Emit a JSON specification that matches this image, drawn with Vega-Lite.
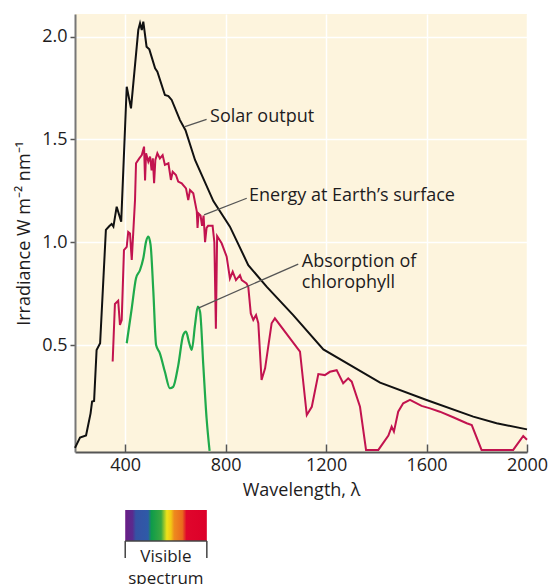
{
  "$schema": "https://vega.github.io/schema/vega-lite/v6.json",
  "width": 452,
  "height": 438,
  "autosize": {"type": "none"},
  "padding": {"left": 75, "top": 14, "right": 22, "bottom": 132},
  "background": "white",
  "config": {
    "view": {"fill": "#fdf4dd", "stroke": null},
    "font": "Open Sans",
    "text": {"font": "Open Sans", "fontSize": 18, "color": "#1e1c1d"}
  },
  "datasets": {
    "solar": [
      {"nm": 200, "v": 0}, {"nm": 220, "v": 0.05}, {"nm": 244, "v": 0.06}, {"nm": 262, "v": 0.168},
      {"nm": 268, "v": 0.225}, {"nm": 276, "v": 0.228}, {"nm": 286, "v": 0.476}, {"nm": 300, "v": 0.509},
      {"nm": 323, "v": 1.06}, {"nm": 337, "v": 1.079}, {"nm": 346, "v": 1.089}, {"nm": 353, "v": 1.076},
      {"nm": 366, "v": 1.173}, {"nm": 384, "v": 1.10}, {"nm": 406, "v": 1.756}, {"nm": 423, "v": 1.651},
      {"nm": 452, "v": 2.032}, {"nm": 459, "v": 2.065}, {"nm": 466, "v": 2.032}, {"nm": 472, "v": 2.073},
      {"nm": 485, "v": 1.951}, {"nm": 496, "v": 1.938}, {"nm": 519, "v": 1.846}, {"nm": 528, "v": 1.83},
      {"nm": 558, "v": 1.716}, {"nm": 572, "v": 1.711}, {"nm": 585, "v": 1.692}, {"nm": 618, "v": 1.594},
      {"nm": 640, "v": 1.545}, {"nm": 678, "v": 1.40}, {"nm": 751, "v": 1.20}, {"nm": 817, "v": 1.076},
      {"nm": 890, "v": 0.889}, {"nm": 963, "v": 0.784}, {"nm": 1069, "v": 0.646}, {"nm": 1189, "v": 0.479},
      {"nm": 1415, "v": 0.317}, {"nm": 1600, "v": 0.233}, {"nm": 1786, "v": 0.152}, {"nm": 1879, "v": 0.12},
      {"nm": 2000, "v": 0.09}
    ],
    "surface": [
      {"nm": 350, "v": 0.42}, {"nm": 359, "v": 0.70}, {"nm": 372, "v": 0.716}, {"nm": 379, "v": 0.598},
      {"nm": 386, "v": 0.622}, {"nm": 395, "v": 0.962}, {"nm": 406, "v": 0.978}, {"nm": 412, "v": 1.05},
      {"nm": 419, "v": 1.043}, {"nm": 426, "v": 0.914}, {"nm": 439, "v": 1.205}, {"nm": 443, "v": 1.384},
      {"nm": 456, "v": 1.408}, {"nm": 466, "v": 1.424}, {"nm": 475, "v": 1.465}, {"nm": 479, "v": 1.30},
      {"nm": 483, "v": 1.433}, {"nm": 492, "v": 1.392}, {"nm": 499, "v": 1.416}, {"nm": 505, "v": 1.35},
      {"nm": 510, "v": 1.408}, {"nm": 515, "v": 1.287}, {"nm": 520, "v": 1.40}, {"nm": 528, "v": 1.433},
      {"nm": 538, "v": 1.408}, {"nm": 549, "v": 1.424}, {"nm": 558, "v": 1.376}, {"nm": 572, "v": 1.384},
      {"nm": 582, "v": 1.303}, {"nm": 589, "v": 1.343}, {"nm": 602, "v": 1.327}, {"nm": 611, "v": 1.295},
      {"nm": 625, "v": 1.287}, {"nm": 642, "v": 1.262}, {"nm": 651, "v": 1.205}, {"nm": 658, "v": 1.254},
      {"nm": 671, "v": 1.238}, {"nm": 685, "v": 1.15}, {"nm": 688, "v": 1.07}, {"nm": 692, "v": 1.14},
      {"nm": 700, "v": 1.13}, {"nm": 706, "v": 1.08}, {"nm": 712, "v": 1.13}, {"nm": 718, "v": 1.0},
      {"nm": 724, "v": 1.07}, {"nm": 730, "v": 1.08}, {"nm": 748, "v": 1.08}, {"nm": 755, "v": 1.0},
      {"nm": 761, "v": 0.58}, {"nm": 766, "v": 1.03}, {"nm": 784, "v": 0.995}, {"nm": 804, "v": 0.93},
      {"nm": 817, "v": 0.824}, {"nm": 828, "v": 0.857}, {"nm": 841, "v": 0.816}, {"nm": 857, "v": 0.84},
      {"nm": 864, "v": 0.816}, {"nm": 883, "v": 0.80}, {"nm": 890, "v": 0.784}, {"nm": 900, "v": 0.654},
      {"nm": 910, "v": 0.622}, {"nm": 921, "v": 0.646}, {"nm": 930, "v": 0.606}, {"nm": 943, "v": 0.33},
      {"nm": 957, "v": 0.387}, {"nm": 983, "v": 0.606}, {"nm": 996, "v": 0.63}, {"nm": 1096, "v": 0.468},
      {"nm": 1123, "v": 0.16}, {"nm": 1143, "v": 0.20}, {"nm": 1169, "v": 0.359}, {"nm": 1195, "v": 0.354},
      {"nm": 1215, "v": 0.37}, {"nm": 1242, "v": 0.378}, {"nm": 1268, "v": 0.314}, {"nm": 1288, "v": 0.338},
      {"nm": 1302, "v": 0.322}, {"nm": 1335, "v": 0.20}, {"nm": 1359, "v": -0.01}, {"nm": 1408, "v": -0.01},
      {"nm": 1448, "v": 0.06}, {"nm": 1461, "v": 0.103}, {"nm": 1470, "v": 0.079}, {"nm": 1487, "v": 0.176},
      {"nm": 1507, "v": 0.217}, {"nm": 1534, "v": 0.233}, {"nm": 1580, "v": 0.204}, {"nm": 1614, "v": 0.192},
      {"nm": 1653, "v": 0.176}, {"nm": 1706, "v": 0.149}, {"nm": 1760, "v": 0.12}, {"nm": 1780, "v": 0.111},
      {"nm": 1819, "v": -0.01}, {"nm": 1945, "v": -0.01}, {"nm": 1985, "v": 0.058}, {"nm": 2000, "v": 0.04}
    ],
    "chlorophyll": [
      {"nm": 406, "v": 0.509}, {"nm": 426, "v": 0.679}, {"nm": 443, "v": 0.825}, {"nm": 459, "v": 0.865},
      {"nm": 472, "v": 0.922}, {"nm": 483, "v": 1.003}, {"nm": 492, "v": 1.027}, {"nm": 501, "v": 0.987},
      {"nm": 512, "v": 0.76}, {"nm": 523, "v": 0.50}, {"nm": 538, "v": 0.46}, {"nm": 558, "v": 0.37},
      {"nm": 578, "v": 0.29}, {"nm": 591, "v": 0.297}, {"nm": 611, "v": 0.40}, {"nm": 631, "v": 0.549},
      {"nm": 642, "v": 0.565}, {"nm": 655, "v": 0.509}, {"nm": 665, "v": 0.476}, {"nm": 678, "v": 0.598},
      {"nm": 689, "v": 0.687}, {"nm": 698, "v": 0.662}, {"nm": 711, "v": 0.40}, {"nm": 724, "v": 0.144},
      {"nm": 736, "v": -0.015}
    ],
    "leaders": [
      {"nm": 638, "v": 1.562, "nm2": 724, "v2": 1.598},
      {"nm": 714, "v": 1.133, "nm2": 884, "v2": 1.214},
      {"nm": 691, "v": 0.680, "nm2": 1089, "v2": 0.894}
    ],
    "labels": [
      {"nm": 738, "v": 1.61, "text": "Solar output"},
      {"nm": 893, "v": 1.225, "text": "Energy at Earth’s surface"},
      {"nm": 1103, "v": 0.906, "text": "Absorption of"},
      {"nm": 1103, "v": 0.800, "text": "chlorophyll"}
    ],
    "spectrum": [
      {"nm": 400, "nm2": 725, "v": -0.302, "v2": -0.453}
    ],
    "bracket": [
      {"nm": 400, "nm2": 725, "v": -0.453, "v2": -0.453},
      {"nm": 400, "nm2": 400, "v": -0.453, "v2": -0.535},
      {"nm": 725, "nm2": 725, "v": -0.453, "v2": -0.535}
    ],
    "spectrumText": [
      {"nm": 562, "v": -0.530, "text": "Visible"},
      {"nm": 562, "v": -0.640, "text": "spectrum"}
    ]
  },
  "encoding": {
    "x": {
      "field": "nm", "type": "quantitative",
      "scale": {"domain": [200, 2000], "nice": false, "zero": false},
      "axis": {
        "values": [400, 800, 1200, 1600, 2000],
        "format": "d",
        "labelFlush": false,
        "title": "Wavelength, λ",
        "titleFont": "Open Sans", "titleFontSize": 18, "titleFontWeight": 500, "titleColor": "#1e1c1d",
        "titlePadding": 7,
        "labelFont": "Open Sans", "labelFontSize": 18, "labelFontWeight": 500, "labelColor": "#1e1c1d",
        "labelPadding": 12,
        "tickSize": -8, "tickColor": "#555", "tickWidth": 1.5,
        "domainColor": "#555", "domainWidth": 2,
        "grid": true, "gridColor": "white", "gridWidth": 1.5
      }
    },
    "y": {
      "field": "v", "type": "quantitative",
      "scale": {"domain": [-0.02, 2.11], "nice": false, "zero": false},
      "axis": {
        "values": [0.5, 1, 1.5, 2],
        "format": ".1f",
        "title": "Irradiance W m⁻² nm⁻¹",
        "titleFont": "Open Sans", "titleFontSize": 18, "titleFontWeight": 500, "titleColor": "#1e1c1d",
        "titlePadding": 8,
        "labelFont": "Open Sans", "labelFontSize": 18, "labelFontWeight": 500, "labelColor": "#1e1c1d",
        "labelPadding": 3,
        "tickSize": 5, "tickColor": "#555", "tickWidth": 1.5,
        "domainColor": "#777", "domainWidth": 2,
        "grid": true, "gridColor": "white", "gridWidth": 1.5
      }
    }
  },
  "layer": [
    {"data": {"name": "solar"}, "mark": {"type": "line", "color": "#111111", "strokeWidth": 2}},
    {"data": {"name": "surface"}, "mark": {"type": "line", "color": "#c2134f", "strokeWidth": 2}},
    {"data": {"name": "chlorophyll"}, "mark": {"type": "line", "color": "#1faa4b", "strokeWidth": 2.2, "interpolate": "monotone"}},
    {"data": {"name": "leaders"}, "mark": {"type": "rule", "color": "#555555", "strokeWidth": 1.3},
     "encoding": {"x2": {"field": "nm2"}, "y2": {"field": "v2"}}},
    {"data": {"name": "labels"}, "mark": {"type": "text", "align": "left", "baseline": "middle", "fontSize": 18, "fontWeight": 500, "color": "#1e1c1d"},
     "encoding": {"text": {"field": "text"}}},
    {"data": {"name": "spectrum"},
     "mark": {"type": "rect", "clip": false,
       "fill": {"gradient": "linear", "x1": 0, "y1": 0, "x2": 1, "y2": 0, "stops": [
         {"offset": 0, "color": "#6a1d86"}, {"offset": 0.09, "color": "#5a2b8e"},
         {"offset": 0.13, "color": "#3552a4"}, {"offset": 0.28, "color": "#2e5aa8"},
         {"offset": 0.32, "color": "#0e9b4a"}, {"offset": 0.44, "color": "#3aa840"},
         {"offset": 0.51, "color": "#eee21a"}, {"offset": 0.56, "color": "#f2c814"},
         {"offset": 0.6, "color": "#ee8a1e"}, {"offset": 0.7, "color": "#ea6a1e"},
         {"offset": 0.75, "color": "#e0062c"}, {"offset": 1, "color": "#dc0029"}
       ]}},
     "encoding": {"x2": {"field": "nm2"}, "y2": {"field": "v2"}}},
    {"data": {"name": "bracket"}, "mark": {"type": "rule", "color": "#444444", "strokeWidth": 1.5, "clip": false},
     "encoding": {"x2": {"field": "nm2"}, "y2": {"field": "v2"}}},
    {"data": {"name": "spectrumText"}, "mark": {"type": "text", "align": "center", "baseline": "middle", "fontSize": 17, "fontWeight": 500, "color": "#1e1c1d"},
     "encoding": {"text": {"field": "text"}}}
  ]
}
